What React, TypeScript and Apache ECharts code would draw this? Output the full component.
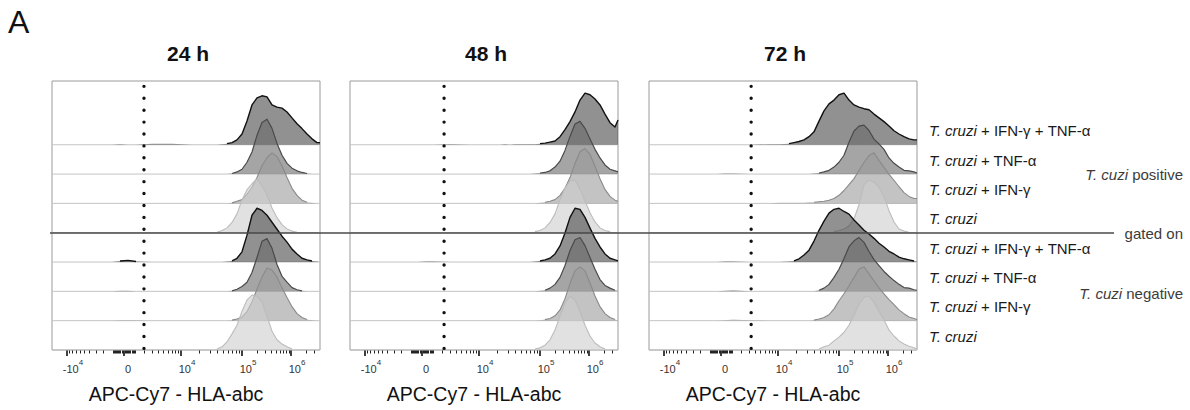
import React, { useEffect, useRef } from "react";
import * as echarts from "echarts";

// ---------------- data ----------------
const PANEL_TITLES = ["24 h", "48 h", "72 h"];
const CONDITIONS = ["T. cruzi + IFN-γ + TNF-α", "T. cruzi + TNF-α", "T. cruzi + IFN-γ", "T. cruzi"];
const GROUPS = ["T. cuzi positive", "T. cuzi negative"];
const GATE_LABEL = "gated on";
const X_TITLE = "APC-Cy7 - HLA-abc";
const FIG_LETTER = "A";

// biexponential axis ticks (fluorescence values)
const MAJOR_TICKS = [-1e4, 0, 1e4, 1e5, 1e6];
const MAJOR_BASE = ["-10", "0", "10", "10", "10"];
const MAJOR_EXP = ["4", "", "4", "5", "6"];
const LINEAR_MULTS = [1, 2, 3, 4, 5, 6, 7, 8, 9];
const LOG_MULTS = [2, 3, 4, 5, 6, 7, 8, 9];

// dotted gate (fluorescence value) per time point
const GATES = [1950, 2200, 3300];

// histogram bins in display channels (0..268)
const BINS = [0, 30, 60, 68, 76, 84, 100, 120, 130, 140, 145, 150, 155, 160, 165, 170, 175, 180, 185, 190, 195, 200, 205, 210, 215, 220, 225, 230, 235, 240, 245, 250, 255, 260, 265, 268];

// % of mode, rows top -> bottom (positive: IFN+TNF, TNF, IFN, none; negative: same)
const H24 = [
  [0,0,0,1,0,0,2,2,1, 0,0,0,0,0,0,1,2,4,9,20,44,74,87,91,89,74,70,68,61,50,39,30,20,11,4,4],
  [0,0,0,0,0,0,0,0,0, 0,0,0,0,0,0,0,0,1,4,9,22,41,72,96,102,85,57,35,20,11,6,3,1,0,0,0],
  [0,0,0,0,0,0,0,0,0, 0,0,0,0,0,0,0,0,1,4,7,17,30,48,70,85,94,87,70,48,28,15,6,2,1,0,0],
  [0,0,0,0,0,0,0,0,0, 0,0,0,0,0,1,4,9,19,35,61,80,91,100,87,70,46,28,15,7,3,1,0,0,0,0,0],
  [0,0,0,2,3,1,0,0,0, 0,0,0,0,0,0,0,1,2,7,19,50,87,100,96,87,74,61,48,37,24,15,7,4,2,1,0],
  [0,0,0,1,1,0,0,0,0, 0,0,0,0,0,0,0,0,1,4,9,17,35,63,93,98,80,50,28,17,7,3,1,0,0,0,0],
  [0,0,0,1,1,1,0,0,0, 0,0,0,0,0,0,0,0,1,3,7,17,35,59,81,98,94,81,61,43,26,13,6,2,1,0,0],
  [0,0,0,0,0,0,0,0,0, 0,0,0,0,1,2,6,15,30,46,72,93,102,100,89,63,35,19,11,6,2,1,0,0,0,0,0],
];
const H48 = [
  [0,0,0,0,0,0,1,0,0, 0,0,0,1,0,1,1,1,1,1,2,3,5,7,15,28,43,61,83,96,93,85,74,57,41,33,46],
  [0,0,0,0,0,0,0,0,0, 0,0,0,0,0,0,0,0,0,1,2,3,6,13,24,44,70,93,98,85,65,46,30,17,9,6,4],
  [0,0,0,0,0,0,0,0,0, 0,0,0,0,0,0,0,0,0,0,1,2,4,7,15,28,48,74,96,102,91,69,46,26,13,6,4],
  [0,0,0,0,0,0,0,0,0, 0,0,0,0,0,0,0,0,1,2,4,9,19,35,61,83,96,98,81,59,37,20,9,4,2,1,0],
  [0,0,0,0,1,1,0,0,0, 0,0,0,0,0,0,0,0,0,1,2,4,7,15,30,54,83,100,98,83,63,44,28,15,7,4,2],
  [0,0,0,0,0,0,0,0,0, 0,0,0,0,0,0,0,0,0,0,1,2,6,13,26,48,76,96,100,85,63,41,22,11,6,2,1],
  [0,0,0,0,0,0,0,0,0, 0,0,0,0,0,0,0,0,0,0,1,2,4,9,20,41,69,93,100,93,70,46,26,13,6,2,1],
  [0,0,0,0,0,0,0,0,0, 0,0,0,0,0,0,0,0,1,2,4,9,19,37,63,87,100,93,72,46,26,13,6,2,1,0,0],
];
const H72 = [
  [0,0,0,0,0,0,0,1,1, 2,4,6,9,15,24,44,63,76,83,93,96,83,74,70,67,65,57,50,43,35,26,20,15,11,9,9],
  [0,0,0,0,1,1,0,0,0, 0,0,0,0,0,1,2,4,7,13,22,35,59,80,89,91,81,65,56,46,30,20,13,7,6,4,2],
  [0,0,0,0,0,0,0,0,1, 1,1,1,1,2,2,3,4,6,9,15,24,35,46,61,76,89,94,80,67,54,43,31,20,13,9,9],
  [0,0,0,0,0,0,0,0,0, 0,0,0,0,0,0,0,0,1,2,4,7,13,26,52,89,98,94,85,67,41,20,7,3,1,0,0],
  [0,0,0,0,1,1,0,0,0, 1,2,6,13,22,39,59,76,91,98,100,94,89,78,69,59,52,44,35,28,20,15,9,6,4,2,1],
  [0,0,0,0,1,2,0,0,0, 0,0,0,0,0,0,2,6,13,26,41,61,83,94,100,91,74,59,48,37,28,20,13,7,6,3,2],
  [0,0,0,0,1,2,1,0,0, 0,0,0,0,0,1,3,6,11,22,37,50,65,80,96,100,87,74,61,50,39,30,20,13,7,4,2],
  [0,0,0,0,0,0,0,0,0, 0,0,0,0,0,0,2,6,9,17,24,33,46,65,85,98,100,89,72,56,37,26,17,11,7,4,2],
];
const PANELS = [H24, H48, H72];

// ---------------- layout / style ----------------
const FONT = "'Liberation Sans', Arial, Helvetica, sans-serif";
const PANEL_LEFT = [52, 350, 649];
const PANEL_TOP = 81;
const PANEL_W = 268;
const PANEL_H = 269;
const X_MAX = 268;
const Y_MAX = 500;
const ROW_STEP = 54.5;
const OUTLINE_MIN = 3;
const FILLS = ["rgba(72,72,72,0.6)", "rgba(105,105,105,0.6)", "rgba(155,155,155,0.6)", "rgba(205,205,205,0.6)"];
const STROKES = ["#111111", "#4a4a4a", "#8a8a8a", "#bcbcbc"];
const STROKE_W = [1.4, 1.2, 1.1, 1.1];
const TICK_TXT = "#333333";

// display transform (biexponential-like)
function toDisplay(v: number): number {
  if (v >= 1e5) return 190 + 49 * Math.log10(v / 1e5);
  if (v >= 1e4) return 129 + 61 * Math.log10(v / 1e4);
  return 72 + 26.5 * Math.asinh(v / 2358);
}

const MAJOR_D = MAJOR_TICKS.map(toDisplay);
const MINOR_D: number[] = [];
[100, 1000].forEach((dec) => LINEAR_MULTS.forEach((m) => { MINOR_D.push(toDisplay(m * dec)); MINOR_D.push(toDisplay(-m * dec)); }));
[1e4, 1e5, 1e6].forEach((dec) => LOG_MULTS.forEach((m) => MINOR_D.push(toDisplay(m * dec))));
const MINOR_IN = MINOR_D.filter((d) => d > 0 && d < X_MAX);

function buildOption() {
  const grid = PANEL_LEFT.map((l) => ({
    left: l, top: PANEL_TOP, width: PANEL_W, height: PANEL_H, show: true,
    borderColor: "#9a9a9a", borderWidth: 1, backgroundColor: "transparent",
  }));

  const xAxis: any[] = [];
  PANEL_LEFT.forEach((_, p) => {
    xAxis.push({
      gridIndex: p, type: "value", min: 0, max: X_MAX, position: "bottom",
      axisLine: { show: false }, splitLine: { show: false },
      axisTick: { show: true, customValues: MAJOR_D, length: 6, lineStyle: { color: "#111", width: 1.6 } },
      axisLabel: {
        show: true, customValues: MAJOR_D, margin: 5, color: TICK_TXT,
        formatter: (val: number) => {
          let k = 0, best = Infinity;
          MAJOR_D.forEach((d, i) => { if (Math.abs(d - val) < best) { best = Math.abs(d - val); k = i; } });
          if (!MAJOR_EXP[k]) return `{z|${MAJOR_BASE[k]}}`;
          return `{b|${MAJOR_BASE[k]}}{s|${MAJOR_EXP[k]}}`;
        },
        rich: {
          b: { fontSize: 11, color: TICK_TXT, fontFamily: FONT, lineHeight: 20, padding: [8, 0, 0, 12] },
          s: { fontSize: 8, color: TICK_TXT, fontFamily: FONT, lineHeight: 20, padding: [0, 0, 6, 0] },
          z: { fontSize: 11, color: TICK_TXT, fontFamily: FONT, lineHeight: 20, padding: [8, 0, 0, 8] },
        },
      },
      name: X_TITLE, nameLocation: "middle", nameGap: 34,
      nameTextStyle: { fontSize: 19.5, color: "#111", fontFamily: FONT, padding: [0, 20, 0, 0] },
    });
    xAxis.push({
      gridIndex: p, type: "value", min: 0, max: X_MAX, position: "bottom", offset: 0,
      axisLine: { show: false }, splitLine: { show: false }, axisLabel: { show: false },
      axisTick: { show: true, customValues: MINOR_IN, length: 3.5, lineStyle: { color: "#222", width: 1 } },
    });
  });

  const labelVals = CONDITIONS.concat(CONDITIONS).map((_, r) => (7 - r) * ROW_STEP + 26);
  const yAxis: any[] = PANEL_LEFT.map((_, p) => {
    if (p < 2) return { gridIndex: p, type: "value", min: 0, max: Y_MAX, show: false };
    return {
      gridIndex: p, type: "value", min: 0, max: Y_MAX, position: "right",
      axisLine: { show: false }, axisTick: { show: false }, splitLine: { show: false },
      axisLabel: {
        show: true, customValues: labelVals, margin: 12, align: "left",
        formatter: (val: number) => {
          const r = 7 - Math.round((val - 26) / ROW_STEP);
          const txt = CONDITIONS[r % 4];
          const rest = txt.slice("T. cruzi".length);
          return `{i|T. cruzi}{n|${rest}}`;
        },
        rich: {
          i: { fontSize: 15, fontStyle: "italic", color: "#1a1a1a", fontFamily: FONT },
          n: { fontSize: 15, color: "#1a1a1a", fontFamily: FONT },
        },
      },
    };
  });

  const series: any[] = [];
  PANELS.forEach((rows, p) => {
    series.push({
      type: "custom", xAxisIndex: p * 2, yAxisIndex: p, clip: false, silent: true,
      data: rows.map((_, r) => [0, (7 - r) * ROW_STEP]),
      renderItem: (params: any, api: any) => {
        const r = params.dataIndex;
        const counts = rows[r];
        const kind = r % 4;
        const base = (7 - r) * ROW_STEP;
        const pts = BINS.map((x, i) => api.coord([x, base + counts[i]]));
        const left = api.coord([BINS[0], base]);
        const right = api.coord([BINS[BINS.length - 1], base]);
        const children: any[] = [
          { type: "line", shape: { x1: left[0], y1: left[1], x2: right[0], y2: right[1] }, style: { stroke: "#c4c4c4", lineWidth: 1 } },
          { type: "polygon", shape: { points: [left, ...pts, right] }, style: { fill: FILLS[kind], stroke: "none" } },
        ];
        let seg: number[][] = [];
        const flush = () => {
          if (seg.length > 1) children.push({ type: "polyline", shape: { points: seg }, style: { stroke: STROKES[kind], lineWidth: STROKE_W[kind], fill: "none", lineJoin: "round" } });
          seg = [];
        };
        for (let i = 0; i < counts.length; i++) {
          const lo = Math.max(0, i - 1), hi = Math.min(counts.length - 1, i + 1);
          const on = Math.max(counts[lo], counts[i], counts[hi]) >= OUTLINE_MIN;
          if (on) seg.push(pts[i]); else flush();
        }
        flush();
        return { type: "group", children };
      },
    });
    const g = toDisplay(GATES[p]);
    series.push({
      type: "line", xAxisIndex: p * 2, yAxisIndex: p, silent: true, symbol: "none",
      data: [[g, 3], [g, Y_MAX]],
      lineStyle: { color: "#111", width: 3.4, type: [0.01, 11.9], cap: "round" },
      z: 5,
    });
  });

  const graphic: any[] = [
    { type: "text", x: 8, y: 6, style: { text: FIG_LETTER, fontSize: 32, fill: "#111", fontFamily: FONT } },
    ...PANEL_TITLES.map((t, p) => ({
      type: "text", x: PANEL_LEFT[p] + PANEL_W / 2 + 2, y: 53,
      style: { text: t, fontSize: 21, fontWeight: "bold", fill: "#111", fontFamily: FONT, align: "center", verticalAlign: "middle" },
    })),
    ...GROUPS.map((g, i) => {
      const rest = g.slice("T. cuzi".length);
      return {
        type: "text", x: 1183, y: i === 0 ? 174 : 293,
        style: {
          text: `{i|T. cuzi}{n|${rest}}`, align: "right", verticalAlign: "middle",
          rich: { i: { fontSize: 15, fontStyle: "italic", fill: "#3c3c3c", fontFamily: FONT }, n: { fontSize: 15, fill: "#3c3c3c", fontFamily: FONT } },
        },
      };
    }),
    { type: "text", x: 1183, y: 233, style: { text: GATE_LABEL, fontSize: 15, fill: "#3c3c3c", fontFamily: FONT, align: "right", verticalAlign: "middle" } },
    { type: "line", z: 100, shape: { x1: 50, y1: 233, x2: 1114, y2: 233 }, style: { stroke: "#4a4a4a", lineWidth: 1.5 } },
  ];

  return {
    animation: false,
    backgroundColor: "#ffffff",
    textStyle: { fontFamily: FONT },
    grid, xAxis, yAxis, series, graphic,
  };
}

export default function App() {
  const ref = useRef<HTMLDivElement>(null);
  useEffect(() => {
    if (!ref.current) return;
    const chart = echarts.init(ref.current, null, { renderer: "svg" });
    chart.setOption(buildOption() as any);
    return () => chart.dispose();
  }, []);
  return <div ref={ref} style={{ position: "absolute", left: 0, top: 0, width: 1190, height: 410, background: "#fff" }} />;
}
